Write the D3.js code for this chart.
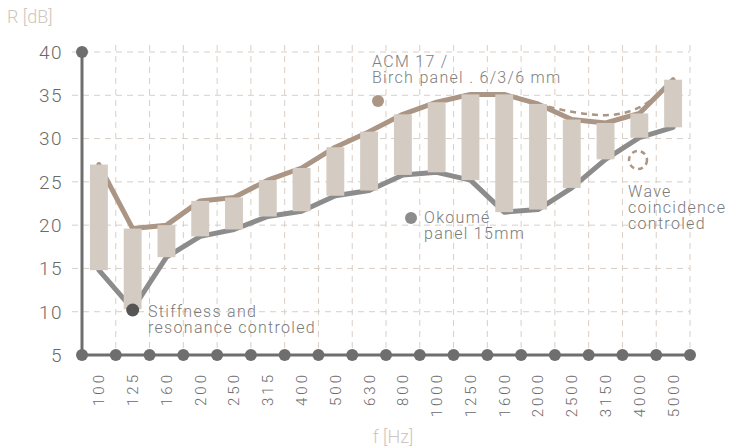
<!DOCTYPE html>
<html>
<head>
<meta charset="utf-8">
<script src="https://cdn.jsdelivr.net/npm/d3@7"></script>
<style>
  body { margin: 0; background: #fff; }
  svg text { font-family: Roboto, "Liberation Sans", sans-serif; font-weight: 300; }
</style>
</head>
<body>
<div id="chart"></div>
<script>
const frequencies = ['100', '125', '160', '200', '250', '315', '400', '500', '630', '800',
  '1000', '1250', '1600', '2000', '2500', '3150', '4000', '5000'];
// ACM 17 / Birch panel 6/3/6 mm
const birchValues = [27, 19.6, 20, 22.8, 23.2, 25.2, 26.6, 29, 30.8, 32.8,
  34.2, 35.1, 35.1, 34, 32.2, 31.8, 32.9, 36.8];
// Okoume panel 15mm
const okoumeValues = [14.8, 10.3, 16.3, 18.7, 19.5, 21, 21.6, 23.4, 24, 25.8,
  26.1, 25.2, 21.5, 21.8, 24.3, 27.6, 30.1, 31.3];
// wave coincidence dashed curve (from 2000 Hz)
const waveFreqs = ['2000', '2500', '3150', '4000', '5000'];
const waveValues = [34, 33.1, 32.7, 33.6, 36.8];
const yTicks = [5, 10, 15, 20, 25, 30, 35, 40];

const width = 729, height = 448;
const plotLeft = 82, plotRight = 690, plotTop = 52, plotBottom = 355;

const svg = d3.select('#chart').append('svg')
  .attr('width', width)
  .attr('height', height);

const y = d3.scaleLinear().domain([5, 40]).range([plotBottom, plotTop]);

// band scale for the bars, plain band scale for cell boundaries
const x = d3.scaleBand()
  .domain(frequencies)
  .range([plotLeft, plotRight])
  .paddingInner(0.47)
  .paddingOuter(0.235);
const cell = d3.scaleBand().domain(frequencies).range([plotLeft, plotRight]).padding(0);
const cx = f => x(f) + x.bandwidth() / 2;
const bounds = frequencies.map(f => cell(f)).concat([plotRight]);

const gridColor = '#d9cfc6';

// grid
svg.append('g')
  .selectAll('line')
  .data(yTicks.slice(1))
  .join('line')
    .attr('x1', 72).attr('x2', plotRight)
    .attr('y1', d => y(d)).attr('y2', d => y(d))
    .attr('stroke', gridColor)
    .attr('stroke-width', 1)
    .attr('stroke-dasharray', '6,5');

svg.append('g')
  .selectAll('line')
  .data(bounds.slice(1))
  .join('line')
    .attr('x1', d => d).attr('x2', d => d)
    .attr('y1', 45).attr('y2', plotBottom)
    .attr('stroke', gridColor)
    .attr('stroke-width', 1)
    .attr('stroke-dasharray', '6,5');

// lines
const line = d3.line()
  .x(d => cx(d[0]))
  .y(d => y(d[1]));
const smooth = d3.line()
  .x(d => cx(d[0]))
  .y(d => y(d[1]))
  .curve(d3.curveMonotoneX);

svg.append('path')
  .datum(d3.zip(frequencies, okoumeValues))
  .attr('d', line)
  .attr('fill', 'none')
  .attr('stroke', '#8c8c8c')
  .attr('stroke-width', 5)
  .attr('stroke-linecap', 'round')
  .attr('stroke-linejoin', 'round');

svg.append('path')
  .datum(d3.zip(waveFreqs, waveValues))
  .attr('d', smooth)
  .attr('fill', 'none')
  .attr('stroke', '#ab9686')
  .attr('stroke-width', 2.5)
  .attr('stroke-dasharray', '6,5');

svg.append('path')
  .datum(d3.zip(frequencies, birchValues))
  .attr('d', line)
  .attr('fill', 'none')
  .attr('stroke', '#ab9686')
  .attr('stroke-width', 5)
  .attr('stroke-linecap', 'round')
  .attr('stroke-linejoin', 'round');

// bars between the two panels
svg.append('g')
  .selectAll('rect')
  .data(frequencies)
  .join('rect')
    .attr('x', d => x(d))
    .attr('width', x.bandwidth())
    .attr('y', (d, i) => y(Math.max(birchValues[i], okoumeValues[i])))
    .attr('height', (d, i) => Math.abs(y(birchValues[i]) - y(okoumeValues[i])))
    .attr('fill', '#d4cbc2');

// axes
const axisColor = '#6e6e6e';
svg.append('line')
  .attr('x1', plotLeft).attr('x2', plotLeft)
  .attr('y1', plotTop).attr('y2', plotBottom)
  .attr('stroke', axisColor).attr('stroke-width', 3);
svg.append('line')
  .attr('x1', plotLeft).attr('x2', plotRight)
  .attr('y1', plotBottom).attr('y2', plotBottom)
  .attr('stroke', axisColor).attr('stroke-width', 3);
svg.append('circle')
  .attr('cx', plotLeft).attr('cy', plotTop).attr('r', 6).attr('fill', axisColor);
svg.append('g')
  .selectAll('circle')
  .data(bounds)
  .join('circle')
    .attr('cx', d => d).attr('cy', plotBottom).attr('r', 6)
    .attr('fill', axisColor);

// y tick labels
svg.append('g')
  .selectAll('text')
  .data(yTicks)
  .join('text')
    .attr('x', 63)
    .attr('y', d => y(d))
    .attr('dy', '0.36em')
    .attr('text-anchor', 'end')
    .attr('font-size', 19)
    .attr('letter-spacing', 1.5)
    .attr('fill', '#6a6a6a')
    .text(d => d);

// x tick labels
svg.append('g')
  .selectAll('text')
  .data(frequencies)
  .join('text')
    .attr('transform', d => `translate(${cx(d)},372) rotate(-90)`)
    .attr('dy', '0.36em')
    .attr('text-anchor', 'end')
    .attr('font-size', 15)
    .attr('letter-spacing', 3)
    .attr('fill', '#6a6a6a')
    .text(d => d);

// axis titles
svg.append('text')
  .attr('x', 7).attr('y', 23)
  .attr('font-size', 18)
  .attr('fill', '#d0c6bd')
  .text('R [dB]');
svg.append('text')
  .attr('x', 393).attr('y', 443)
  .attr('text-anchor', 'middle')
  .attr('font-size', 18)
  .attr('fill', '#d0c6bd')
  .text('f [Hz]');

// annotations
function label(xp, yp, lines, color) {
  const t = svg.append('text')
    .attr('x', xp).attr('y', yp)
    .attr('font-size', 16)
    .attr('letter-spacing', 1.3)
    .attr('fill', color);
  lines.forEach((s, i) => {
    t.append('tspan').attr('x', xp).attr('dy', i === 0 ? 0 : 16).text(s);
  });
}

svg.append('circle').attr('cx', 378).attr('cy', 101).attr('r', 6).attr('fill', '#ab9686');
label(372, 67, ['ACM 17 /', 'Birch panel . 6/3/6 mm'], '#808080');

svg.append('circle').attr('cx', 411).attr('cy', 218).attr('r', 6).attr('fill', '#8c8c8c');
label(424, 223, ['Okoumé', 'panel 15mm'], '#7a7a7a');

svg.append('circle').attr('cx', cx('125')).attr('cy', y(10.2)).attr('r', 6.5).attr('fill', '#555');
label(148, 317, ['Stiffness and', 'resonance controled'], '#7a7a7a');

svg.append('circle').attr('cx', 638).attr('cy', 160).attr('r', 9)
  .attr('fill', 'none').attr('stroke', '#ab9686').attr('stroke-width', 2.5)
  .attr('stroke-dasharray', '5,4');
label(628, 197, ['Wave', 'coincidence', 'controled'], '#7a7a7a');
</script>
</body>
</html>
